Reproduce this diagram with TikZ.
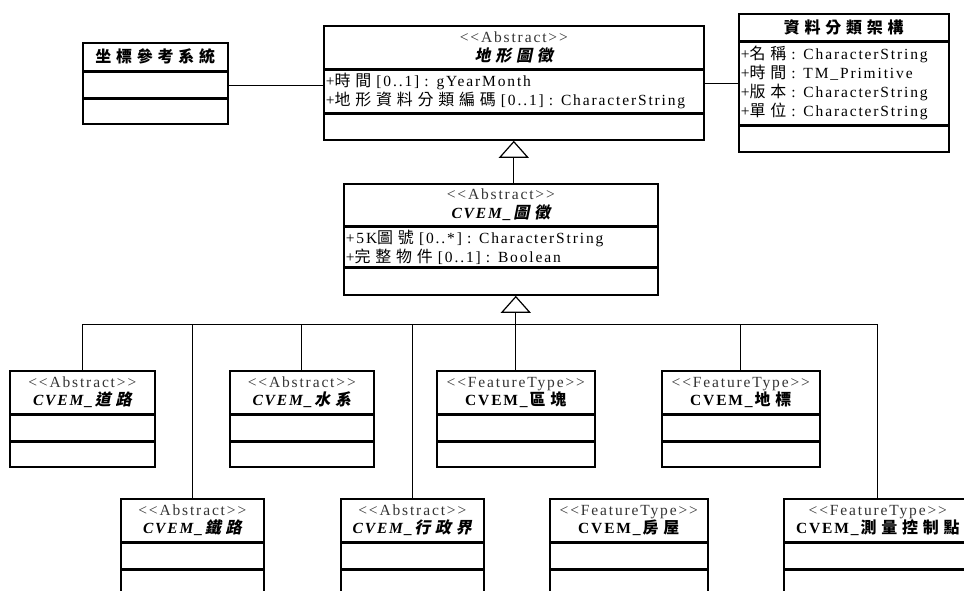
\documentclass[tikz,border=0pt]{standalone}
\usepackage{fontspec}
\setmainfont{Liberation Serif}[LetterSpace=12, WordSpace=2.6]
\newfontfamily\zh{Noto Sans CJK TC}[Scale=1.03, LetterSpace=30]
\newfontfamily\zhit{Noto Sans CJK TC}[Scale=1.03, LetterSpace=30, FakeSlant=0.2]
\usepackage{xcolor}
\usepackage{tikz}
\usetikzlibrary{arrows.meta}
\newcommand{\stereo}[1]{{\color{black!80}<{}<#1>{}>}}
\newcommand{\absname}[1]{\textbf{\textit{CVEM\_}}{\zhit\bfseries #1}}
\newcommand{\ftname}[1]{\textbf{CVEM\_}{\zh\bfseries #1}}

\begin{document}
\begin{tikzpicture}[x=1pt, y=-1pt,
    comp/.style={draw, line width=1.6pt, anchor=north west, inner sep=0pt},
    head/.style={comp, align=center, font=\fontsize{15.5}{18.5}\selectfont},
    attr/.style={comp, align=left, inner xsep=2pt, font=\fontsize{15.5}{19}\selectfont},
    assoc/.style={line width=0.8pt},
    gen/.style={assoc, -{Triangle[open, length=17pt, width=30pt, line width=1.2pt]}}]
    \useasboundingbox (0,0) rectangle (964,590);
    \clip (0,0) rectangle (964,590);

    \node[head, minimum width=145, minimum height=28] (crs) at (82,42) {{\zh\bfseries 坐標參考系統}};
    \node[comp, minimum width=145, minimum height=25] (crs-a) at (crs.south west) {};
    \node[comp, minimum width=145, minimum height=25] (crs-o) at (crs-a.south west) {};

    \node[head, minimum width=380, minimum height=43] (topo) at (323,25) {\stereo{Abstract}\\{\zhit\bfseries 地形圖徵}};
    \node[attr, text width=376, minimum height=42] (topo-a) at (topo.south west) {+{\zh 時間} [0..1] : gYearMonth\\+{\zh 地形資料分類編碼} [0..1] : CharacterString};
    \node[comp, minimum width=380, minimum height=26] (topo-o) at (topo-a.south west) {};

    \node[head, minimum width=210, minimum height=27] (scheme) at (738,13) {{\zh\bfseries 資料分類架構}};
    \node[attr, text width=206, minimum height=82] (scheme-a) at (scheme.south west) {+{\zh 名稱} : CharacterString\\+{\zh 時間} : TM\_Primitive\\+{\zh 版本} : CharacterString\\+{\zh 單位} : CharacterString};
    \node[comp, minimum width=210, minimum height=26] (scheme-o) at (scheme-a.south west) {};

    \node[head, minimum width=314, minimum height=42] (cvem) at (343,183) {\stereo{Abstract}\\\absname{圖徵}};
    \node[attr, text width=310, minimum height=39] (cvem-a) at (cvem.south west) {+5K{\zh 圖號} [0..*] : CharacterString\\+{\zh 完整物件} [0..1] : Boolean};
    \node[comp, minimum width=314, minimum height=27] (cvem-o) at (cvem-a.south west) {};

    \foreach \n/\x/\y/\w/\oh/\st/\lab in {
        road/9/370/145/25/Abstract/\absname{道路},
        water/229/370/144/25/Abstract/\absname{水系},
        block/436/370/158/25/FeatureType/\ftname{區塊},
        landmark/661/370/158/25/FeatureType/\ftname{地標},
        rail/120/498/143/60/Abstract/\absname{鐵路},
        admin/340/498/143/60/Abstract/\absname{行政界},
        house/549/498/158/60/FeatureType/\ftname{房屋},
        control/783/498/188/60/FeatureType/\ftname{測量控制點}} {
        \node[head, minimum width=\w, minimum height=43] (\n) at (\x,\y) {\stereo{\st}\\\lab};
        \node[comp, minimum width=\w, minimum height=25] (\n-a) at (\n.south west) {};
        \node[comp, minimum width=\w, minimum height=\oh] (\n-o) at (\n-a.south west) {};
    }

    \coordinate (bus) at (0,324);
    \draw[assoc] (road.north) -- (road.north |- bus) -- (control.north |- bus) -- (control.north);
    \foreach \n in {rail, water, admin, landmark}
        \draw[assoc] (\n.north) -- (\n.north |- bus);
    \draw[gen] (block.north) -- (block.north |- cvem-o.south);
    \draw[gen] (cvem.north -| topo-o.south) -- (topo-o.south);
    \draw[assoc] (crs-a.east) -- (crs-a.east -| topo-a.west);
    \draw[assoc] (scheme-a.west) -- (scheme-a.west -| topo-a.east);
\end{tikzpicture}
\end{document}
